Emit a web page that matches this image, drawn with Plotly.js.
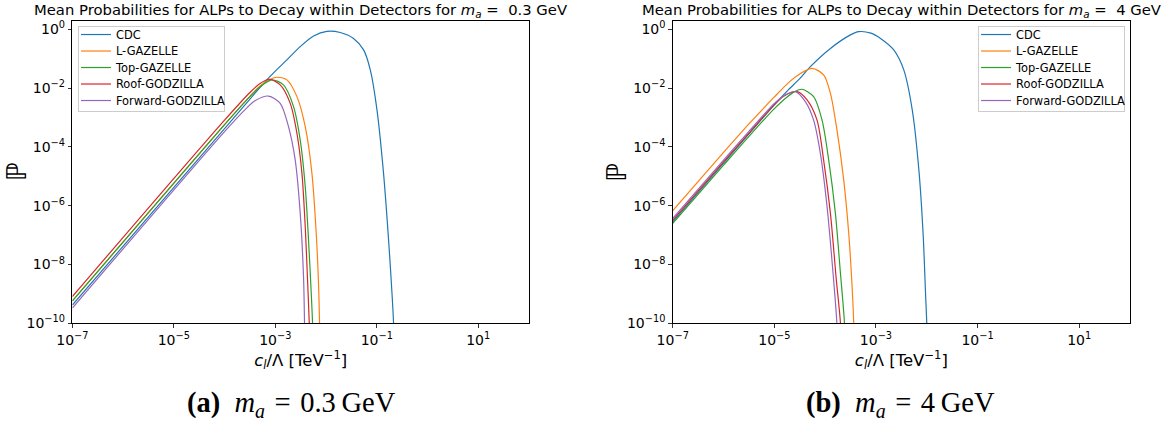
<!DOCTYPE html>
<html><head><meta charset="utf-8">
<script src="https://cdn.plot.ly/plotly-3.0.1.min.js"></script>
<style>html,body{margin:0;padding:0;background:#fff}#chart{width:1169px;height:423px}</style>
</head><body><div id="chart"></div>
<script>
// ---------- data ----------
const seriesNames = ['CDC', 'L-GAZELLE', 'Top-GAZELLE', 'Roof-GODZILLA', 'Forward-GODZILLA'];
const seriesColors = ['#1f77b4', '#ff7f0e', '#2ca02c', '#d62728', '#9467bd'];

// Panel (a): m_a = 0.3 GeV
const cdcA_c = [1e-7, 1e-4, 6.31e-4, 1e-3, 1.694e-3, 3.10e-3, 5.68e-3, 1.04e-2, 1.905e-2, 3.48e-2, 5.50e-2, 7.45e-2, 0.1009, 0.136, 0.171, 0.1995, 0.2143, 0.2213];
const cdcA_P = [4.17e-10, 4.17e-4, 1.66e-2, 3.80e-2, 9.12e-2, 0.257, 0.589, 0.851, 0.776, 0.490, 0.1995, 4.17e-2, 1.82e-3, 1.26e-5, 6.76e-8, 1.05e-9, 1e-10, 1e-11];
const lgzA_c = [1e-7, 1e-4, 3.16e-4, 5.01e-4, 7.94e-4, 1.076e-3, 1.694e-3, 2.67e-3, 3.89e-3, 5.27e-3, 6.41e-3, 7.11e-3, 7.45e-3, 7.62e-3];
const lgzA_P = [5.75e-10, 5.75e-4, 5.25e-3, 1.175e-2, 2.00e-2, 2.34e-2, 1.905e-2, 5.13e-3, 4.90e-4, 1.26e-5, 1.15e-7, 2.29e-9, 1e-10, 1e-11];
const tgzA_c = [1e-7, 1e-4, 3.16e-4, 5.01e-4, 8.57e-4, 1.45e-3, 2.29e-3, 3.10e-3, 3.89e-3, 4.52e-3, 5.11e-3, 5.42e-3, 5.56e-3];
const tgzA_P = [5.75e-10, 5.75e-4, 5.13e-3, 1.10e-2, 1.905e-2, 1.29e-2, 2.34e-3, 1.70e-4, 4.47e-6, 6.76e-8, 1.05e-9, 1e-10, 1e-11];
const rgdA_c = [1e-7, 1e-4, 3.16e-4, 5.01e-4, 7.69e-4, 1.25e-3, 1.97e-3, 2.67e-3, 3.35e-3, 3.89e-3, 4.32e-3, 4.67e-3, 4.79e-3];
const rgdA_P = [8.13e-10, 8.13e-4, 7.08e-3, 1.445e-2, 2.00e-2, 1.29e-2, 3.02e-3, 2.88e-4, 1.26e-5, 1.95e-7, 2.95e-9, 1e-10, 1e-11];
const fgdA_c = [1e-7, 1e-4, 2.51e-4, 3.98e-4, 7.35e-4, 1.25e-3, 1.82e-3, 2.47e-3, 3.10e-3, 3.60e-3, 3.77e-3, 3.85e-3];
const fgdA_P = [3.31e-10, 3.31e-4, 1.82e-3, 3.72e-3, 5.37e-3, 3.02e-3, 4.90e-4, 3.55e-5, 5.50e-7, 3.89e-9, 1e-10, 1e-11];

// Panel (b): m_a = 4 GeV
const cdcB_c = [1e-7, 1e-5, 1.78e-5, 3.16e-5, 5.11e-5, 1.27e-4, 3.15e-4, 4.57e-4, 7.94e-4, 1.23e-3, 2.24e-3, 3.53e-3, 5.18e-3, 7.00e-3, 8.53e-3, 9.46e-3, 1e-2, 1.023e-2];
const cdcB_P = [2.82e-7, 2.69e-3, 7.94e-3, 2.09e-2, 5.37e-2, 0.224, 0.646, 0.832, 0.741, 0.490, 0.1995, 4.17e-2, 1.82e-3, 1.62e-5, 8.91e-8, 1.05e-9, 1e-10, 1e-11];
const lgzB_c = [1e-7, 1e-6, 3.16e-6, 1e-5, 2.00e-5, 3.16e-5, 5.52e-5, 9.33e-5, 1.27e-4, 1.71e-4, 2.32e-4, 2.91e-4, 3.39e-4, 3.65e-4, 3.73e-4];
const lgzB_P = [6.76e-7, 6.46e-5, 6.03e-4, 5.01e-3, 1.66e-2, 3.02e-2, 4.68e-2, 2.82e-2, 6.61e-3, 3.72e-4, 7.41e-6, 1.15e-7, 1.74e-9, 1e-10, 1e-11];
const tgzB_c = [1e-7, 1e-6, 3.16e-6, 1e-5, 1.78e-5, 2.51e-5, 3.50e-5, 5.93e-5, 8.69e-5, 1.175e-4, 1.59e-4, 2.00e-4, 2.40e-4, 2.45e-4];
const tgzB_P = [2.51e-7, 2.40e-5, 2.29e-4, 2.00e-3, 5.01e-3, 7.59e-3, 9.12e-3, 5.13e-3, 8.13e-4, 3.55e-5, 5.50e-7, 5.01e-9, 1e-10, 1e-11];
const rgdB_c = [1e-7, 1e-6, 3.16e-6, 1e-5, 1.585e-5, 2.79e-5, 4.40e-5, 6.92e-5, 9.33e-5, 1.27e-4, 1.66e-4, 2.00e-4, 2.04e-4];
const rgdB_P = [3.24e-7, 3.09e-5, 2.95e-4, 2.75e-3, 5.50e-3, 7.59e-3, 3.98e-3, 8.13e-4, 3.55e-5, 5.50e-7, 2.95e-9, 1e-10, 1e-11];
const fgdB_c = [1e-7, 1e-6, 3.16e-6, 1e-5, 1.585e-5, 2.59e-5, 4.07e-5, 5.93e-5, 8.04e-5, 1.09e-4, 1.43e-4, 1.70e-4, 1.74e-4];
const fgdB_P = [3.72e-7, 3.55e-5, 3.39e-4, 3.02e-3, 5.75e-3, 7.59e-3, 3.47e-3, 8.13e-4, 6.03e-5, 9.33e-7, 5.01e-9, 1e-10, 1e-11];

// tick labels
const xTickVals = [1e-7, 1e-5, 1e-3, 1e-1, 1e1];
const xTickText = ['10<sup>\u22127</sup>', '10<sup>\u22125</sup>', '10<sup>\u22123</sup>', '10<sup>\u22121</sup>', '10<sup>1</sup>'];
const yTickVals = [1, 1e-2, 1e-4, 1e-6, 1e-8, 1e-10];
const yTickText = ['10<sup>0</sup>', '10<sup>\u22122</sup>', '10<sup>\u22124</sup>', '10<sup>\u22126</sup>', '10<sup>\u22128</sup>', '10<sup>\u221210</sup>'];

const panelTitles = [
  'Mean Probabilities for ALPs to Decay within Detectors for <i>m<sub>a</sub></i> =  0.3 GeV',
  'Mean Probabilities for ALPs to Decay within Detectors for <i>m<sub>a</sub></i> =  4 GeV'
];
const captions = [
  '<b>(a)</b>\u2002<i>m<sub>a</sub></i>\u2004=\u20040.3\u2009GeV',
  '<b>(b)</b>\u2002<i>m<sub>a</sub></i>\u2004=\u20044\u2009GeV'
];
const xLabel = '<i>c<sub>l</sub></i>/\u039B [TeV<sup>\u22121</sup>]';
const yLabel = '\u2119';

// ---------- build ----------
const panelA = [[cdcA_c, cdcA_P], [lgzA_c, lgzA_P], [tgzA_c, tgzA_P], [rgdA_c, rgdA_P], [fgdA_c, fgdA_P]];
const panelB = [[cdcB_c, cdcB_P], [lgzB_c, lgzB_P], [tgzB_c, tgzB_P], [rgdB_c, rgdB_P], [fgdB_c, fgdB_P]];

const traces = [];
panelA.forEach((s, i) => traces.push({
  x: s[0], y: s[1], type: 'scatter', mode: 'lines', name: seriesNames[i],
  line: {color: seriesColors[i], width: 1.2, shape: 'spline', smoothing: 0.8},
  xaxis: 'x', yaxis: 'y', legend: 'legend'
}));
panelB.forEach((s, i) => traces.push({
  x: s[0], y: s[1], type: 'scatter', mode: 'lines', name: seriesNames[i],
  line: {color: seriesColors[i], width: 1.2, shape: 'spline', smoothing: 0.8},
  xaxis: 'x2', yaxis: 'y2', legend: 'legend2'
}));

const FONT = 'DejaVu Sans, Noto Sans, sans-serif';
function xax(domain, anchor) {
  return {
    type: 'log', range: [-7, 2], domain: domain, anchor: anchor, automargin: false,
    showline: true, mirror: true, linecolor: '#000', linewidth: 1,
    ticks: 'outside', ticklen: 3.5, tickwidth: 0.8, tickcolor: '#000',
    tickmode: 'array', tickvals: xTickVals, ticktext: xTickText,
    tickfont: {family: FONT, size: 14, color: '#000'},
    showgrid: false, zeroline: false,
    title: {text: xLabel, font: {family: FONT, size: 16.5, color: '#000'}, standoff: 5}
  };
}
function yax(anchor) {
  return {
    type: 'log', range: [-10, 0.293], domain: [0.2357, 0.9511], anchor: anchor, automargin: false,
    showline: true, mirror: true, linecolor: '#000', linewidth: 1,
    ticks: 'outside', ticklen: 3.5, tickwidth: 0.8, tickcolor: '#000',
    tickmode: 'array', tickvals: yTickVals, ticktext: yTickText,
    tickfont: {family: FONT, size: 14, color: '#000'},
    showgrid: false, zeroline: false
  };
}
const legendStyle = {
  bgcolor: 'rgba(255,255,255,0.8)', bordercolor: '#cccccc', borderwidth: 1,
  font: {family: FONT, size: 11.4, color: '#000'}, yanchor: 'top', y: 0.9385,
  tracegroupgap: 0
};

const annFont = {family: FONT, size: 14.8, color: '#000'};
const capFont = {family: 'Liberation Serif, DejaVu Serif, serif', size: 28.5, color: '#000'};
const pFont = {family: FONT, size: 27, color: '#000'};
const layout = {
  width: 1169, height: 423,
  margin: {l: 0, r: 0, t: 0, b: 0},
  paper_bgcolor: '#fff', plot_bgcolor: '#fff',
  font: {family: FONT, color: '#000'},
  showlegend: true,
  xaxis: xax([0.0619, 0.4525], 'y'),
  yaxis: yax('x'),
  xaxis2: xax([0.5755, 0.9666], 'y2'),
  yaxis2: yax('x2'),
  legend: Object.assign({}, legendStyle, {x: 0.0667, xanchor: 'left'}),
  legend2: Object.assign({}, legendStyle, {x: 0.9624, xanchor: 'right'}),
  annotations: [
    {text: panelTitles[0], xref: 'paper', yref: 'paper', x: 0.2572, y: 0.974, xanchor: 'center', yanchor: 'middle', showarrow: false, font: annFont},
    {text: panelTitles[1], xref: 'paper', yref: 'paper', x: 0.771, y: 0.974, xanchor: 'center', yanchor: 'middle', showarrow: false, font: annFont},
    {text: yLabel, xref: 'paper', yref: 'paper', x: 0.0137, y: 0.593, xanchor: 'center', yanchor: 'middle', textangle: -90, showarrow: false, font: pFont},
    {text: yLabel, xref: 'paper', yref: 'paper', x: 0.5268, y: 0.593, xanchor: 'center', yanchor: 'middle', textangle: -90, showarrow: false, font: pFont},
    {text: captions[0], xref: 'paper', yref: 'paper', x: 0.249, y: 0.0426, xanchor: 'center', yanchor: 'middle', showarrow: false, font: capFont},
    {text: captions[1], xref: 'paper', yref: 'paper', x: 0.770, y: 0.0426, xanchor: 'center', yanchor: 'middle', showarrow: false, font: capFont}
  ]
};

// compact legend rows (matplotlib-like spacing)
const LEG_ROW = 16.5, LEG_TOP = 8.5, LEG_W = 146, LEG_H = 85, LEG_DX = -3;
const TR_RE = /translate\(\s*([-\d.e]+)[\s,]+([-\d.e]+)\s*\)/;
const gd = document.getElementById('chart');
Plotly.newPlot(gd, traces, layout, {staticPlot: true, displayModeBar: false}).then(() => {
  gd.querySelectorAll('g.legend, g.legend2').forEach((leg) => {
    const rightAnchored = leg.classList.contains('legend2');
    const bg = leg.querySelector('rect.bg');
    const w0 = bg ? parseFloat(bg.getAttribute('width')) : LEG_W;
    leg.querySelectorAll('g.traces').forEach((it, i) => {
      const m = TR_RE.exec(it.getAttribute('transform') || '');
      const tx = m ? parseFloat(m[1]) : 0;
      it.setAttribute('transform', 'translate(' + (tx + LEG_DX) + ',' + (LEG_TOP + LEG_ROW * i) + ')');
    });
    if (bg) { bg.setAttribute('width', LEG_W); bg.setAttribute('height', LEG_H); }
    const lm = TR_RE.exec(leg.getAttribute('transform') || '');
    if (lm && rightAnchored) {
      leg.setAttribute('transform', 'translate(' + (parseFloat(lm[1]) + (w0 - LEG_W)) + ',' + lm[2] + ')');
    }
  });
});
</script>
</body></html>
